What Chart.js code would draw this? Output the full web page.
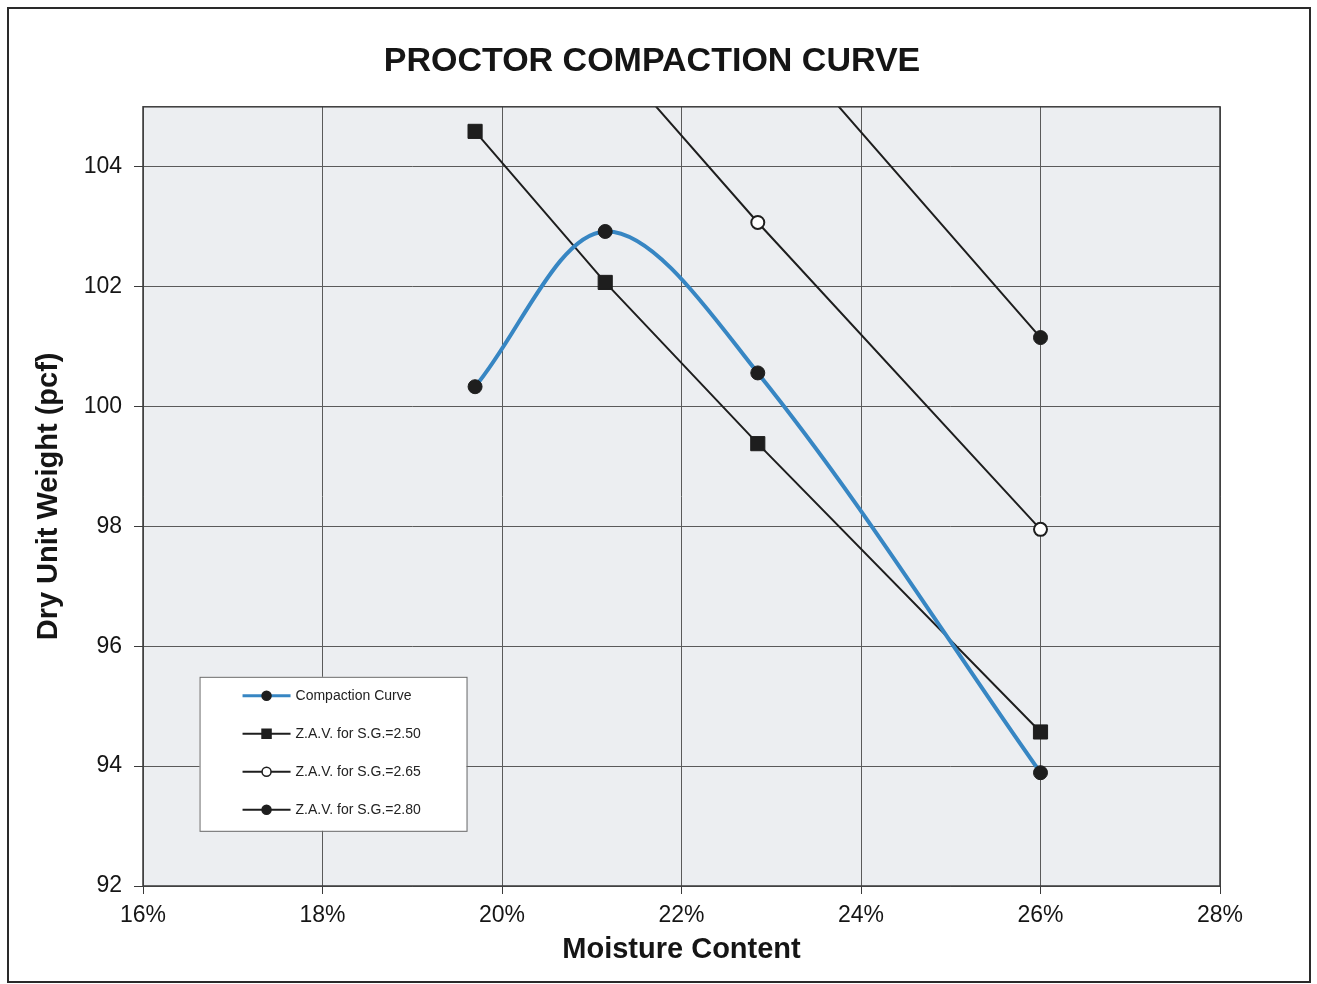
<!DOCTYPE html>
<html>
<head>
<meta charset="utf-8">
<title>Proctor Compaction Curve</title>
<script src="https://cdn.jsdelivr.net/npm/chart.js@4/dist/chart.umd.min.js"></script>
<style>
  html, body { margin: 0; padding: 0; background: #ffffff; }
  #wrap { position: relative; width: 1317px; height: 984px; }
  canvas { display: block; }
</style>
</head>
<body>
<div id="wrap"><canvas id="chart" width="1317" height="984"></canvas></div>
<script>
// Moisture contents of the test points (%)
const moisture = [19.7, 21.15, 22.85, 26.0];

// Measured dry unit weights (pcf)
const compaction = [100.33, 102.92, 100.56, 93.89];

// Zero-air-voids lines for three specific gravities (pcf)
const zav250 = [104.59, 102.07, 99.38, 94.57];
const zav265 = [108.65, 105.97, 103.07, 97.95];
const zav280 = [112.15, 109.30, 106.55, 101.15];

// Axis ranges and tick steps
const xTicks = [16, 18, 20, 22, 24, 26, 28];
const yTicks = [92, 94, 96, 98, 100, 102, 104];
const yTop = 105;

const seriesLabels = [
  'Compaction Curve',
  'Z.A.V. for S.G.=2.50',
  'Z.A.V. for S.G.=2.65',
  'Z.A.V. for S.G.=2.80'
];

const FONT = "'Liberation Sans', Arial, Helvetica, sans-serif";

function pts(ys) { return moisture.map((x, i) => ({ x: x, y: ys[i] })); }

// Plot background, plot frame and outer page frame
const framePlugin = {
  id: 'frames',
  beforeDraw(chart) {
    const { ctx, chartArea: a } = chart;
    ctx.save();
    ctx.fillStyle = '#ffffff';
    ctx.fillRect(0, 0, chart.width, chart.height);
    ctx.fillStyle = '#eceef1';
    ctx.fillRect(a.left, a.top, a.right - a.left, a.bottom - a.top);
    ctx.restore();
  },
  afterDraw(chart) {
    const { ctx, chartArea: a } = chart;
    ctx.save();
    ctx.strokeStyle = '#3a3a3a';
    ctx.lineWidth = 1.5;
    ctx.strokeRect(a.left, a.top, a.right - a.left, a.bottom - a.top);
    ctx.strokeStyle = '#2a2a2a';
    ctx.lineWidth = 2;
    ctx.strokeRect(8, 8, chart.width - 15, chart.height - 10);
    ctx.restore();
  }
};

// Boxed legend inside the lower left of the plot
const boxLegend = {
  id: 'boxLegend',
  afterDatasetsDraw(chart) {
    const { ctx, scales } = chart;
    const x0 = scales.x.getPixelForValue(16.63);
    const y0 = scales.y.getPixelForValue(95.49);
    const w = 267, h = 154;
    ctx.save();
    ctx.fillStyle = '#ffffff';
    ctx.fillRect(x0, y0, w, h);
    ctx.strokeStyle = '#6a6a6a';
    ctx.lineWidth = 1;
    ctx.strokeRect(x0 + 0.5, y0 + 0.5, w, h);
    chart.data.datasets.forEach((ds, i) => {
      const cy = y0 + 19 + i * 38;
      const lx = x0 + 43, rx = x0 + 91, mx = (lx + rx) / 2;
      ctx.strokeStyle = ds.borderColor;
      ctx.lineWidth = i === 0 ? 3 : 2;
      ctx.beginPath();
      ctx.moveTo(lx, cy);
      ctx.lineTo(rx, cy);
      ctx.stroke();
      const r = 4.5;
      ctx.fillStyle = ds.pointBackgroundColor;
      ctx.strokeStyle = ds.pointBorderColor;
      ctx.lineWidth = 1.5;
      ctx.beginPath();
      if (ds.pointStyle === 'rect') {
        ctx.rect(mx - r, cy - r, 2 * r, 2 * r);
      } else {
        ctx.arc(mx, cy, r, 0, Math.PI * 2);
      }
      ctx.fill();
      ctx.stroke();
      ctx.fillStyle = '#222222';
      ctx.font = '14px ' + FONT;
      ctx.textBaseline = 'middle';
      ctx.textAlign = 'left';
      ctx.fillText(ds.label, x0 + 96, cy);
    });
    ctx.restore();
  }
};

new Chart(document.getElementById('chart'), {
  type: 'line',
  data: {
    datasets: [
      {
        label: seriesLabels[0],
        data: pts(compaction),
        borderColor: '#3786c3',
        borderWidth: 4,
        tension: 0.34,
        pointStyle: 'circle',
        pointRadius: 7,
        pointBackgroundColor: '#1e1e1e',
        pointBorderColor: '#1e1e1e',
        pointBorderWidth: 1,
        order: 0
      },
      {
        label: seriesLabels[1],
        data: pts(zav250),
        borderColor: '#1e1e1e',
        borderWidth: 2,
        tension: 0,
        pointStyle: 'rect',
        pointRadius: 10,
        pointBackgroundColor: '#1e1e1e',
        pointBorderColor: '#1e1e1e',
        pointBorderWidth: 1,
        order: 1
      },
      {
        label: seriesLabels[2],
        data: pts(zav265),
        borderColor: '#1e1e1e',
        borderWidth: 2,
        tension: 0,
        pointStyle: 'circle',
        pointRadius: 6.5,
        pointBackgroundColor: '#ffffff',
        pointBorderColor: '#1e1e1e',
        pointBorderWidth: 2,
        order: 2
      },
      {
        label: seriesLabels[3],
        data: pts(zav280),
        borderColor: '#1e1e1e',
        borderWidth: 2,
        tension: 0,
        pointStyle: 'circle',
        pointRadius: 7,
        pointBackgroundColor: '#1e1e1e',
        pointBorderColor: '#1e1e1e',
        pointBorderWidth: 1,
        order: 3
      }
    ]
  },
  options: {
    responsive: false,
    animation: false,
    devicePixelRatio: 1,
    layout: { padding: { left: 0, right: 13, top: 0, bottom: 0 } },
    plugins: {
      legend: { display: false },
      tooltip: { enabled: false },
      title: {
        display: true,
        text: 'PROCTOR COMPACTION CURVE',
        color: '#151515',
        font: { family: FONT, size: 34, weight: 'bold' },
        padding: { top: 41, bottom: 25 }
      }
    },
    scales: {
      x: {
        type: 'linear',
        min: xTicks[0],
        max: xTicks[xTicks.length - 1],
        afterBuildTicks(scale) { scale.ticks = xTicks.map(v => ({ value: v })); },
        afterFit(scale) { scale.height = 98; },
        ticks: {
          color: '#151515',
          font: { family: FONT, size: 23 },
          padding: 8,
          maxRotation: 0,
          callback: v => v + '%'
        },
        grid: { color: '#5a5a5a', lineWidth: 1, tickLength: 8, tickColor: '#3a3a3a' },
        border: { display: false },
        title: {
          display: true,
          text: 'Moisture Content',
          color: '#151515',
          font: { family: FONT, size: 29, weight: 'bold' },
          padding: { top: 0, bottom: 17 }
        }
      },
      y: {
        type: 'linear',
        min: yTicks[0],
        max: yTop,
        afterBuildTicks(scale) { scale.ticks = yTicks.map(v => ({ value: v })); },
        afterFit(scale) { scale.width = 143; },
        ticks: {
          color: '#151515',
          font: { family: FONT, size: 23 },
          padding: 12
        },
        grid: { color: '#5a5a5a', lineWidth: 1, tickLength: 9, tickColor: '#3a3a3a' },
        border: { display: false },
        title: {
          display: true,
          text: 'Dry Unit Weight (pcf)',
          color: '#151515',
          font: { family: FONT, size: 29, weight: 'bold' },
          padding: { top: 32, bottom: 0 }
        }
      },
      // blank margin to the right of the plot
      rightMargin: {
        type: 'linear',
        position: 'right',
        display: true,
        min: 0,
        max: 1,
        afterFit(scale) { scale.width = 84; },
        ticks: { display: false },
        grid: { display: false, drawTicks: false },
        border: { display: false }
      }
    }
  },
  plugins: [framePlugin, boxLegend]
});
</script>
</body>
</html>
